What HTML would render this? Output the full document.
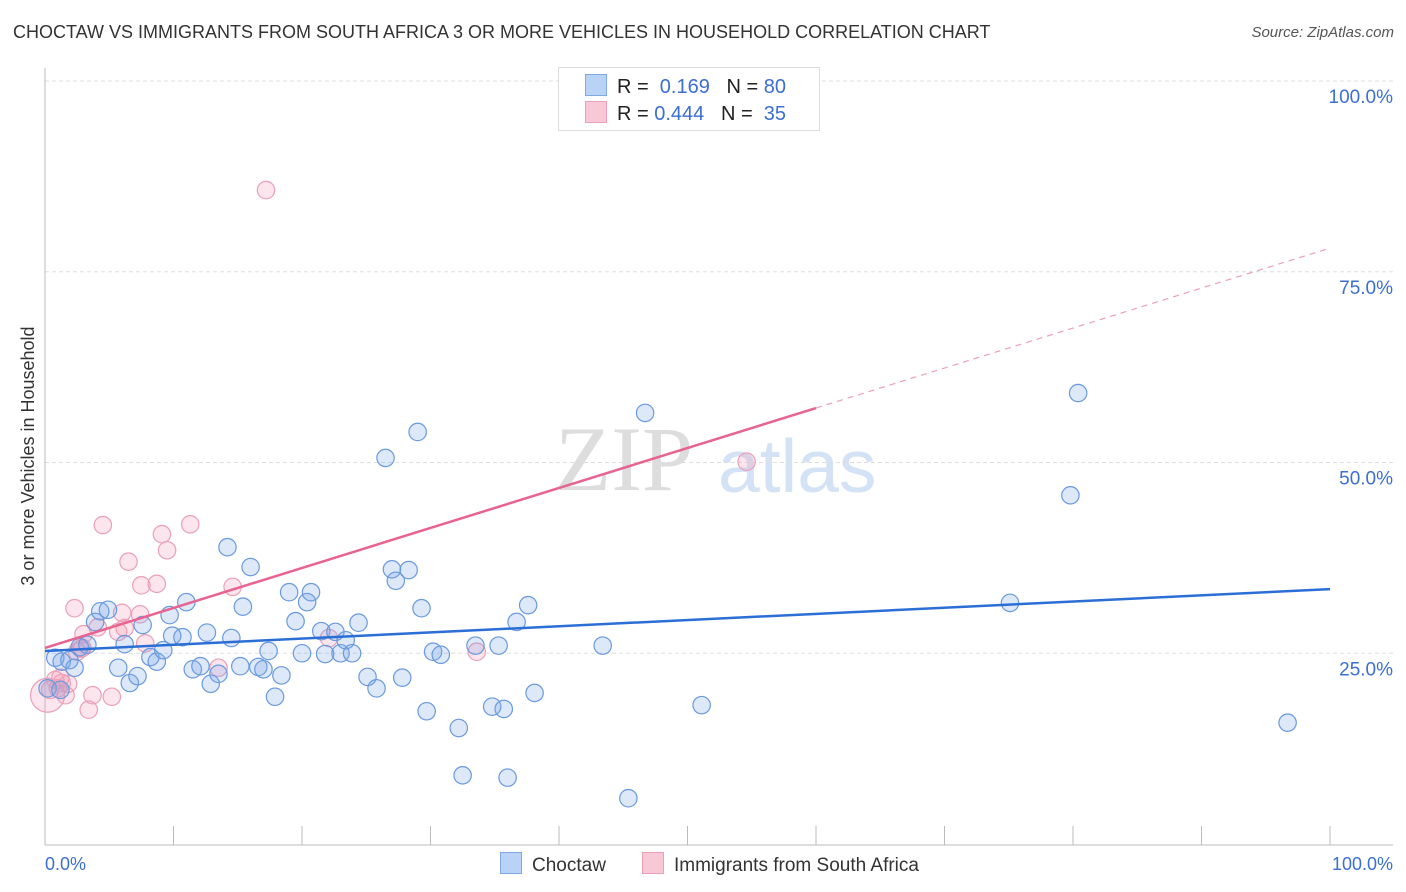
<!DOCTYPE html>
<html><head><meta charset="utf-8"><style>
body{margin:0;background:#fff;font-family:"Liberation Sans",sans-serif}
#wrap{position:relative;width:1406px;height:892px;overflow:hidden}
.t{position:absolute;white-space:nowrap}
</style></head><body>
<div id="wrap">
<div class="t" style="left:13px;top:22px;font-size:18px;color:#333">CHOCTAW VS IMMIGRANTS FROM SOUTH AFRICA 3 OR MORE VEHICLES IN HOUSEHOLD CORRELATION CHART</div>
<div class="t" style="right:12px;top:24px;font-size:15px;color:#555;font-style:italic">Source: ZipAtlas.com</div>
<svg id="svg" width="1406" height="892" style="position:absolute;left:0;top:0">
<text x="555" y="490" font-size="92" fill="#ddd" font-family="Liberation Serif">ZIP</text>
<text x="718" y="492" font-size="75" fill="#d3e2f5" font-family="Liberation Sans">atlas</text>
<g id="grid"></g><g id="pts"></g><g id="lines"></g>
<text transform="translate(34,456) rotate(-90)" text-anchor="middle" font-size="18" fill="#333">3 or more Vehicles in Household</text>
<text x="45" y="870" font-size="18" fill="#3b6fd0">0.0%</text>
<text x="1393" y="870" font-size="18" fill="#3b6fd0" text-anchor="end">100.0%</text>
</svg>
<div class="t" style="left:558px;top:67px;width:260px;height:62px;border:1px solid #ddd;background:#fff"></div>
<div class="t" style="left:585px;top:74px;font-size:20px;color:#222"><span style="display:inline-block;width:20px;height:20px;background:#b8d3f5;border:1px solid #7ea9e3;vertical-align:-3px;margin-right:10px"></span>R = &nbsp;<span style="color:#3b6fd0">0.169</span> &nbsp;&nbsp;N = <span style="color:#3b6fd0">80</span></div>
<div class="t" style="left:585px;top:101px;font-size:20px;color:#222"><span style="display:inline-block;width:20px;height:20px;background:#f9c8d7;border:1px solid #eba0b8;vertical-align:-3px;margin-right:10px"></span>R = <span style="color:#3b6fd0">0.444</span> &nbsp;&nbsp;N = &nbsp;<span style="color:#3b6fd0">35</span></div>
<div class="t" style="left:500px;top:852px;font-size:19px;color:#333"><span style="display:inline-block;width:20px;height:20px;background:#b8d3f5;border:1px solid #7ea9e3;vertical-align:-3px;margin-right:10px"></span>Choctaw</div>
<div class="t" style="left:642px;top:852px;font-size:19px;color:#333"><span style="display:inline-block;width:20px;height:20px;background:#f9c8d7;border:1px solid #eba0b8;vertical-align:-3px;margin-right:10px"></span>Immigrants from South Africa</div>
</div>
<script>
const blueX=[0.8,1.3,1.9,2.3,2.7,3.3,3.9,4.3,4.9,5.7,6.2,6.6,7.2,7.6,8.2,8.7,9.2,9.7,9.9,10.7,11.0,11.5,12.1,12.6,12.9,13.5,14.2,14.5,15.2,15.4,16.0,16.6,17.0,17.4,17.9,18.4,19.0,19.5,20.0,20.4,20.7,21.5,21.8,22.6,23.0,23.4,23.9,24.4,25.1,25.8,26.5,27.0,27.3,27.8,28.3,29.0,29.3,29.7,30.2,30.8,32.2,32.5,33.5,34.8,35.3,35.7,36.0,36.7,37.6,38.1,43.4,45.4,46.7,51.1,75.1,79.8,80.4,96.7,0.2,1.2];
const blueY=[24.4,23.9,24.1,23.1,25.8,26.1,29.1,30.5,30.7,23.1,26.2,21.1,22.0,28.7,24.5,23.9,25.4,30.0,27.3,27.1,31.7,22.9,23.3,27.7,21.0,22.3,38.9,27.0,23.3,31.1,36.3,23.2,22.9,25.3,19.3,22.1,33.0,29.2,25.0,31.7,33.0,27.9,24.9,27.8,25.0,26.7,25.0,29.0,21.9,20.4,50.6,36.0,34.5,21.8,35.9,54.0,30.9,17.4,25.2,24.8,15.2,9.0,26.0,18.0,26.0,17.7,8.7,29.1,31.3,19.8,26.0,6.0,56.5,18.2,31.6,45.7,59.1,15.9,20.4,20.2];
const pinkX=[17.2,54.6,4.5,11.3,9.1,9.5,6.5,7.5,8.7,14.6,2.3,6.0,7.4,6.2,5.7,3.0,4.1,22.1,2.8,2.5,2.9,7.8,13.5,33.6,0.8,1.3,1.8,0.4,1.6,3.7,5.2,3.4,0.2,1.0,1.2];
const pinkY=[85.7,50.1,41.8,41.9,40.6,38.5,37.0,33.9,34.1,33.7,30.9,30.3,30.1,28.3,27.8,27.5,28.4,27.0,25.6,25.2,25.7,26.3,23.1,25.2,21.5,21.1,21.0,20.2,19.5,19.5,19.3,17.6,19.5,20.4,21.8];
const blueTrend=[25.3,33.4];
const pinkTrend=[25.7,78.1];
const yTicks=[25,50,75,100];
const yTickLabels=["25.0%","50.0%","75.0%","100.0%"];
const xTicks=[0,10,20,30,40,50,60,70,80,90,100];
const X=v=>45+v*12.85, Y=v=>844-v*7.63;
const NS="http://www.w3.org/2000/svg";
function mk(p,tag,a){const e=document.createElementNS(NS,tag);for(const k in a)e.setAttribute(k,a[k]);p.appendChild(e);return e;}
const grid=document.getElementById('grid'),pts=document.getElementById('pts'),lines=document.getElementById('lines');
yTicks.forEach((t,i)=>{
 const g=mk(grid,'line',{x1:45,x2:1393,y1:Y(t),y2:Y(t),stroke:'#ddd','stroke-dasharray':'4,3'});
 
 
 const l=mk(grid,'text',{x:1393,y:Y(t)+22,'text-anchor':'end','font-size':19,fill:'#3b6fd0'});l.textContent=yTickLabels[i];
 
 
});
const ax=mk(grid,'line',{x1:45,x2:1393,y1:845,y2:845,stroke:'#bbb'});


const ay=mk(grid,'line',{x1:45,x2:45,y1:68,y2:845,stroke:'#bbb'});


xTicks.forEach(t=>{const k=mk(grid,'line',{x1:X(t),x2:X(t),y1:826,y2:845,stroke:'#bbb'});
 
 });
pinkX.forEach((x,i)=>{const c=mk(pts,'circle',{cx:X(x),cy:Y(pinkY[i]),r:(i==32?17:8.7),fill:'rgba(244,160,188,0.28)',stroke:'#eba0b8','stroke-width':1.2});
 
 });
blueX.forEach((x,i)=>{const c=mk(pts,'circle',{cx:X(x),cy:Y(blueY[i]),r:8.7,fill:'rgba(120,165,230,0.25)',stroke:'#6a9ade','stroke-width':1.2});
 
 });
const bl=mk(lines,'line',{x1:X(0),y1:Y(blueTrend[0]),x2:X(100),y2:Y(blueTrend[1]),stroke:'#2b6fd6','stroke-width':2.5});


const py=x=>pinkTrend[0]+(pinkTrend[1]-pinkTrend[0])*x/100;
const pl=mk(lines,'line',{x1:X(0),y1:Y(py(0)),x2:X(60),y2:Y(py(60)),stroke:'#e8638f','stroke-width':2.5});


const pd=mk(lines,'line',{x1:X(60),y1:Y(py(60)),x2:X(100),y2:Y(py(100)),stroke:'#eba0b8','stroke-width':1.2,'stroke-dasharray':'6,5'});


</script>
</body></html>
